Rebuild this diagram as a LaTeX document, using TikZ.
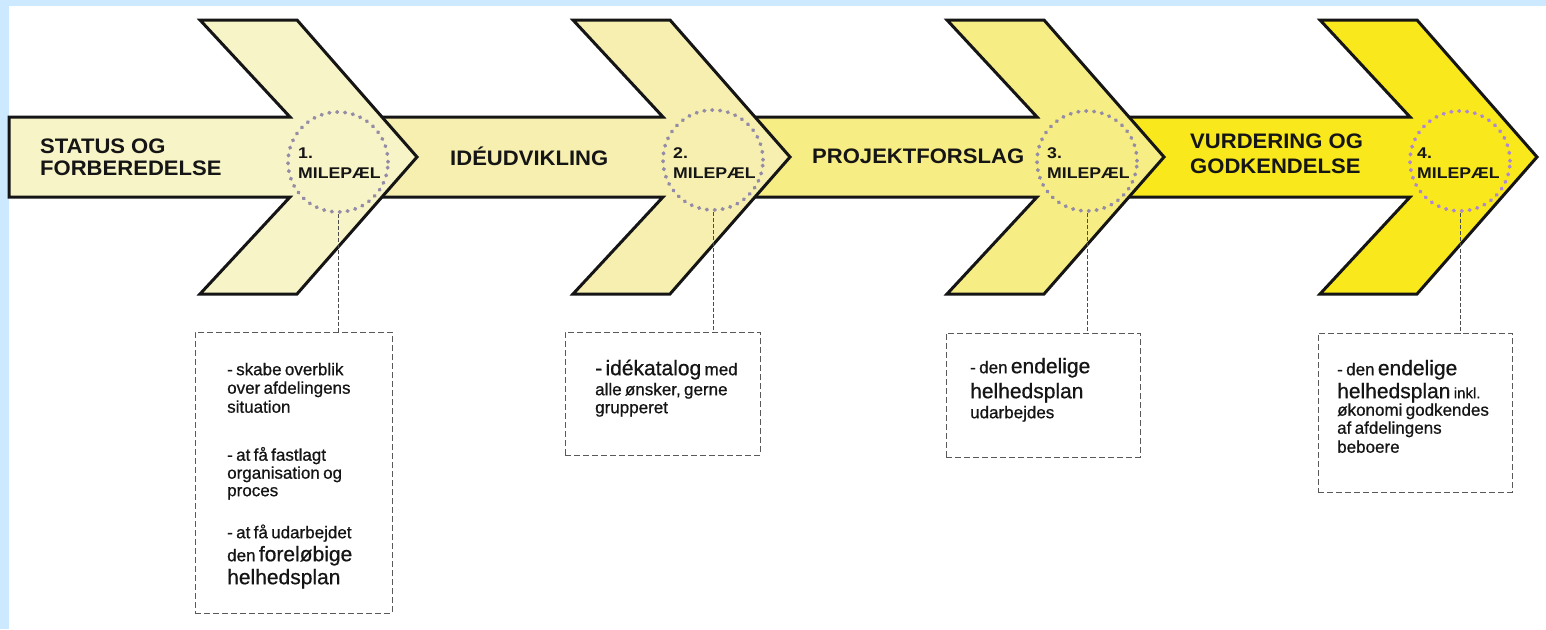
\documentclass[tikz,border=0pt]{standalone}
\usepackage{fontspec}
\setmainfont{Liberation Sans}
\newfontfamily\lblfont[FakeStretch=1.05]{Liberation Sans}
\newfontfamily\msfont[FakeStretch=1.14]{Liberation Sans}
\newfontfamily\bodyfont[FakeBold=0.7]{Liberation Sans}
\definecolor{framebg}{HTML}{CCE9FF}
\definecolor{fillA}{HTML}{F7F4C8}
\definecolor{fillB}{HTML}{F6EFB0}
\definecolor{fillC}{HTML}{F7ED85}
\definecolor{fillD}{HTML}{F8E81C}
\definecolor{dotgray}{HTML}{948CA6}
\definecolor{dotviolet}{HTML}{AE86D6}
\definecolor{ink}{HTML}{151515}
\newcommand\bxline[2]{{\fontsize{17}{#1}\selectfont #2\par}}
\newcommand\Lg[1]{{\fontsize{21}{\baselineskip}\selectfont #1}}
\newcommand\Sm[1]{{\fontsize{15}{\baselineskip}\selectfont #1}}
\newcommand\chevarrow[3]{%
  \draw[arrowline, fill=#3] (#1,117) -- (#2+90,117) -- (#2,20) -- (#2+97,20)
    -- (#2+217,157) -- (#2+97,294) -- (#2,294) -- (#2+90,197) -- (#1,197) -- cycle;}
\begin{document}
\begin{tikzpicture}[x=1pt,y=-1pt,
  arrowline/.style={draw=ink, line width=3pt, line join=miter},
  mscircle/.style={circle, minimum size=100pt, inner sep=0pt, draw=#1,
    line width=3.8pt, line cap=round, dash pattern=on 0.6pt off 7.3pt},
  phase/.style={font=\lblfont\bfseries\fontsize{21}{#1}\selectfont, inner sep=0pt,
    anchor=north west, align=left, text=ink},
  mslabel/.style={font=\msfont\bfseries\fontsize{15.5}{20}\selectfont, inner sep=0pt,
    anchor=north west, align=left, text=ink},
  notebox/.style={draw=black!65, line width=0.9pt, dash pattern=on 6pt off 3pt,
    inner sep=0pt, anchor=north west},
  boxtxt/.style={inner sep=0pt, anchor=north west, text width=165pt, align=left,
    text=ink, font=\bodyfont\setlength{\parindent}{0pt}},
  conn/.style={draw=black!70, line width=0.8pt, dash pattern=on 4pt off 2pt}]
\useasboundingbox (0,0) rectangle (1546,629);
\fill[framebg] (0,0) rectangle (1546,629);
\fill[white] (9,6) rectangle (1546,629);

% arrows (last first, so earlier tips lie on top)
\chevarrow{1100}{1320}{fillD}
\chevarrow{723}{947}{fillC}
\chevarrow{350}{573}{fillB}
\chevarrow{9}{200}{fillA}

% milestone circles
\node[mscircle=dotgray] (c1) at (338,162) {};
\node[mscircle=dotgray] (c2) at (713,160) {};
\node[mscircle=dotgray] (c3) at (1087,161) {};
\node[mscircle=dotviolet] (c4) at (1460,161) {};

% phase labels
\node[phase=22] (p1) at (40,133) {\rule{0pt}{20pt}STATUS OG\\FORBEREDELSE};
\node[phase=22] (p2) at (450,145) {\rule{0pt}{20pt}IDÉUDVIKLING};
\node[phase=22] (p3) at (812,143) {\rule{0pt}{20pt}PROJEKTFORSLAG};
\node[phase=25] (p4) at (1190,128) {\rule{0pt}{20pt}VURDERING OG\\GODKENDELSE};

% milestone labels
\node[mslabel] (m1) at (298,138) {\rule{0pt}{20pt}1.\\MILEPÆL};
\node[mslabel] (m2) at (673,138) {\rule{0pt}{20pt}2.\\MILEPÆL};
\node[mslabel] (m3) at (1047,138) {\rule{0pt}{20pt}3.\\MILEPÆL};
\node[mslabel] (m4) at (1417,138) {\rule{0pt}{20pt}4.\\MILEPÆL};

% note boxes
\node[notebox, minimum width=197pt, minimum height=281pt] (b1) at (195,332) {};
\node[notebox, minimum width=195pt, minimum height=123pt] (b2) at (565,332) {};
\node[notebox, minimum width=194pt, minimum height=124pt] (b3) at (946,333) {};
\node[notebox, minimum width=194pt, minimum height=159pt] (b4) at (1318,333) {};

% connectors
\draw[conn] (c1.south) -- (c1.south |- b1.north);
\draw[conn] (c2.south) -- (c2.south |- b2.north);
\draw[conn] (c3.south) -- (c3.south |- b3.north);
\draw[conn] (c4.south) -- (c4.south |- b4.north);

% note texts
\node[boxtxt] (t1) at (227,355) {%
\bxline{1}{\rule{0pt}{20pt}- skabe overblik}
\bxline{18.5}{over afdelingens}
\bxline{19}{situation}
\bxline{48}{- at få fastlagt}
\bxline{18}{organisation og}
\bxline{17.5}{proces}
\bxline{42}{- at få udarbejdet}
\bxline{23}{den \Lg{foreløbige}}
\bxline{23}{\Lg{helhedsplan}}};
\node[boxtxt] (t2) at (595,355) {%
\bxline{1}{\rule{0pt}{20pt}\Lg{- idékatalog} med}
\bxline{20}{alle ønsker, gerne}
\bxline{18}{grupperet}};
\node[boxtxt] (t3) at (970,353) {%
\bxline{1}{\rule{0pt}{20pt}- den \Lg{endelige}}
\bxline{25}{\Lg{helhedsplan}}
\bxline{20}{udarbejdes}};
\node[boxtxt] (t4) at (1337,355) {%
\bxline{1}{\rule{0pt}{20pt}- den \Lg{endelige}}
\bxline{23}{\Lg{helhedsplan} \Sm{inkl.}}
\bxline{17.5}{økonomi godkendes}
\bxline{18}{af afdelingens}
\bxline{19}{beboere}};
\end{tikzpicture}
\end{document}
